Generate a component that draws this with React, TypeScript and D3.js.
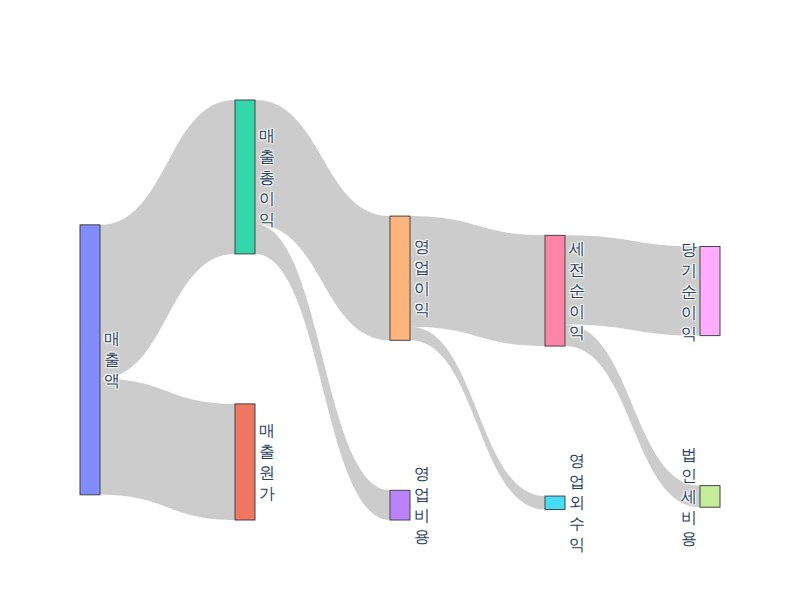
import React from "react";
import * as d3 from "d3";

const nodeLabels = ["매출액", "매출원가", "매출총이익", "영업비용", "영업이익", "영업외수익", "세전순이익", "법인세비용", "당기순이익"];
const nodeColors = ["#636efa", "#EF553B", "#00cc96", "#ab63fa", "#FFA15A", "#19d3f3", "#FF6692", "#B6E880", "#FF97FF"];
const linkSources = ["매출액", "매출액", "매출총이익", "매출총이익", "영업이익", "영업이익", "세전순이익", "세전순이익"];
const linkTargets = ["매출총이익", "매출원가", "영업이익", "영업비용", "세전순이익", "영업외수익", "당기순이익", "법인세비용"];
const linkValues = [57, 43, 46, 11, 41, 5, 33, 8];

type SNode = { name: string; index: number; color: string; sourceLinks: SLink[]; targetLinks: SLink[]; value: number; depth: number; x0: number; x1: number; y0: number; y1: number };
type SLink = { source: SNode; target: SNode; value: number; width: number; y0: number; y1: number };

const W = 800, H = 600;
const margin = { l: 80, r: 80, t: 100, b: 80 };
const nodeWidth = 20;
const nodePad = 150;
const iterations = 50;

function buildGraph() {
  const nodes: SNode[] = nodeLabels.map((name, index) => ({
    name, index, color: nodeColors[index], sourceLinks: [], targetLinks: [], value: 0, depth: 0, x0: 0, x1: 0, y0: 0, y1: 0,
  }));
  const byName = new Map(nodes.map((n) => [n.name, n]));
  const links: SLink[] = linkValues.map((value, i) => {
    const l = { source: byName.get(linkSources[i])!, target: byName.get(linkTargets[i])!, value, width: 0, y0: 0, y1: 0 };
    l.source.sourceLinks.push(l);
    l.target.targetLinks.push(l);
    return l;
  });
  nodes.forEach((n) => {
    n.value = Math.max(d3.sum(n.sourceLinks, (l) => l.value), d3.sum(n.targetLinks, (l) => l.value));
  });
  return { nodes, links };
}

// left-aligned columns by depth
function columnsOf(nodes: SNode[], x0: number, x1: number) {
  let current = nodes.slice();
  let depth = 0;
  while (current.length) {
    const next: SNode[] = [];
    current.forEach((n) => {
      n.depth = depth;
      n.sourceLinks.forEach((l) => { if (!next.includes(l.target)) next.push(l.target); });
    });
    depth++;
    current = next;
  }
  const kx = (x1 - x0 - nodeWidth) / (depth - 1);
  nodes.forEach((n) => { n.x0 = x0 + n.depth * kx; n.x1 = n.x0 + nodeWidth; });
  return d3.range(depth).map((d) => nodes.filter((n) => n.depth === d));
}

const center = (n: SNode) => (n.y0 + n.y1) / 2;

// centre-weighted relaxation (classic sankey)
function layoutBreadths(cols: SNode[][], links: SLink[], y0: number, y1: number, py: number) {
  const ky = d3.min(cols, (c) => (y1 - y0 - (c.length - 1) * py) / d3.sum(c, (n) => n.value))!;
  cols.forEach((c) => c.forEach((n, i) => { n.y0 = i; n.y1 = i + n.value * ky; }));
  links.forEach((l) => { l.width = l.value * ky; });

  const resolve = () => {
    cols.forEach((nodes) => {
      let y = y0;
      nodes.sort((a, b) => a.y0 - b.y0);
      let node = nodes[0];
      for (let i = 0; i < nodes.length; i++) {
        node = nodes[i];
        const dy = y - node.y0;
        if (dy > 0) { node.y0 += dy; node.y1 += dy; }
        y = node.y1 + py;
      }
      let dy = y - py - y1;
      if (dy > 0) {
        y = node.y0 -= dy; node.y1 -= dy;
        for (let i = nodes.length - 2; i >= 0; --i) {
          node = nodes[i];
          dy = node.y1 + py - y;
          if (dy > 0) { node.y0 -= dy; node.y1 -= dy; }
          y = node.y0;
        }
      }
    });
  };

  resolve();
  for (let alpha = 1, k = iterations; k > 0; --k) {
    alpha *= 0.99;
    cols.slice().reverse().forEach((c) => c.forEach((n) => {
      if (!n.sourceLinks.length) return;
      const dy = (d3.sum(n.sourceLinks, (l) => center(l.target) * l.value) / d3.sum(n.sourceLinks, (l) => l.value) - center(n)) * alpha;
      n.y0 += dy; n.y1 += dy;
    }));
    resolve();
    cols.forEach((c) => c.forEach((n) => {
      if (!n.targetLinks.length) return;
      const dy = (d3.sum(n.targetLinks, (l) => center(l.source) * l.value) / d3.sum(n.targetLinks, (l) => l.value) - center(n)) * alpha;
      n.y0 += dy; n.y1 += dy;
    }));
    resolve();
  }
}

function linkBreadths(nodes: SNode[]) {
  nodes.forEach((n) => {
    n.sourceLinks.sort((a, b) => a.target.y0 - b.target.y0);
    n.targetLinks.sort((a, b) => a.source.y0 - b.source.y0);
  });
  nodes.forEach((n) => {
    let y0 = n.y0, y1 = y0;
    n.sourceLinks.forEach((l) => { l.y0 = y0 + l.width / 2; y0 += l.width; });
    n.targetLinks.forEach((l) => { l.y1 = y1 + l.width / 2; y1 += l.width; });
  });
}

function linkPath(l: SLink) {
  const x0 = l.source.x1, x1 = l.target.x0;
  const xi = d3.interpolateNumber(x0, x1);
  const x2 = xi(0.5), x3 = xi(0.5);
  const a0 = l.y0 - l.width / 2, b0 = l.y0 + l.width / 2;
  const a1 = l.y1 - l.width / 2, b1 = l.y1 + l.width / 2;
  return `M${x0},${a0}C${x2},${a0} ${x3},${a1} ${x1},${a1}L${x1},${b1}C${x3},${b1} ${x2},${b0} ${x0},${b0}Z`;
}

export default function App() {
  const { nodes, links } = buildGraph();
  const cols = columnsOf(nodes, margin.l, W - margin.r);
  layoutBreadths(cols, links, margin.t, H - margin.b, nodePad);
  linkBreadths(nodes);

  const lastDepth = d3.max(nodes, (n) => n.depth)!;
  const lineH = 21;

  return (
    <svg width={W} height={H} style={{ position: "absolute", left: 0, top: 0, background: "#fff" }}
      fontFamily='"Open Sans", verdana, arial, sans-serif'>
      {/* links */}
      <g>
        {links.map((l, i) => (
          <path key={i} d={linkPath(l)} fill="rgba(0,0,0,0.2)" />
        ))}
      </g>
      {/* nodes */}
      <g>
        {nodes.map((n) => (
          <rect key={n.name} x={n.x0} y={n.y0} width={n.x1 - n.x0} height={n.y1 - n.y0}
            fill={n.color} fillOpacity={0.8} stroke="#444" strokeWidth={1} />
        ))}
      </g>
      {/* vertical labels, one character per line */}
      <g>
        {nodes.map((n) => {
          const chars = Array.from(n.name);
          const left = n.depth === lastDepth;
          const cy = center(n);
          return (
            <text key={n.name} fill="#2a3f5f" fontSize={16} textAnchor={left ? "end" : "start"}
              style={{ textShadow: "1px 1px 1px #fff, -1px -1px 1px #fff, 1px -1px 1px #fff, -1px 1px 1px #fff" }}>
              {chars.map((c, i) => (
                <tspan key={i} x={left ? n.x0 - 3 : n.x1 + 4} y={cy + (i - (chars.length - 1) / 2) * lineH} dy="0.35em">{c}</tspan>
              ))}
            </text>
          );
        })}
      </g>
    </svg>
  );
}
